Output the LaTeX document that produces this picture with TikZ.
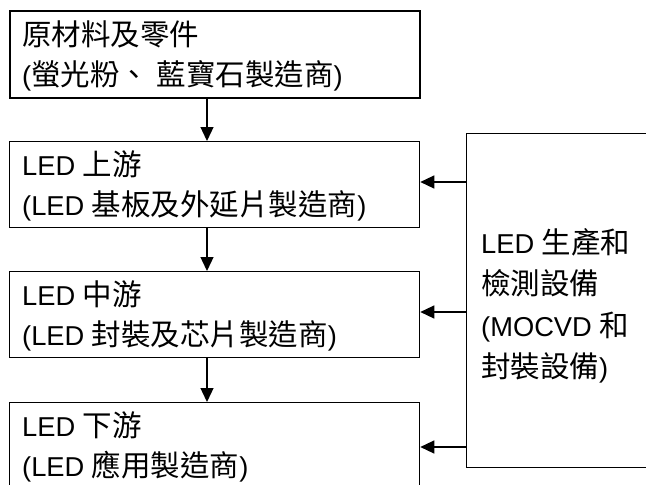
\documentclass[tikz,border=0pt]{standalone}
\usepackage{fontspec}
\setmainfont{Liberation Sans}
\newfontfamily\cjk[Scale=1.08]{Noto Sans CJK TC}
\usetikzlibrary{arrows.meta}
\tikzset{
  box/.style={draw, line width=1.3pt, rectangle, inner sep=0pt, anchor=north west, minimum width=410pt},
  eqbox/.style={draw, line width=1.3pt, rectangle, inner sep=0pt, anchor=north west},
  txt/.style={anchor=base west, inner sep=0pt, font=\fontsize{27.3}{40}\selectfont},
  arr/.style={line width=1.3pt, -{Triangle[length=14pt,width=13pt]}}
}
\begin{document}
\begin{tikzpicture}[x=1pt,y=-1pt]
\useasboundingbox (0,0) rectangle (646,485);
\clip (0,0) rectangle (646,485);
% boxes
\node[box, line width=2pt, minimum height=87pt] (b1) at (9,10) {};
\node[box, minimum height=86pt] (b2) at (9,141) {};
\node[box, minimum height=86pt] (b3) at (9,271) {};
\node[box, minimum height=110pt] (b4) at (9,402) {};
\node[eqbox, minimum width=200pt, minimum height=334pt] (eq) at (466,133) {};
% texts
\node[txt] (t1a) at (22,45) {{\cjk 原材料及零件}};
\node[txt] (t1b) at (22,85) {({\cjk 螢光粉、} {\cjk 藍寶石製造商})};
\node[txt] (t2a) at (22,175) {LED {\cjk 上游}};
\node[txt] (t2b) at (22,215) {(LED {\cjk 基板及外延片製造商})};
\node[txt] (t3a) at (22,305) {LED {\cjk 中游}};
\node[txt] (t3b) at (22,345) {(LED {\cjk 封裝及芯片製造商})};
\node[txt] (t4a) at (22,436) {LED {\cjk 下游}};
\node[txt] (t4b) at (22,476) {(LED {\cjk 應用製造商})};
\node[txt] (e1) at (481,253) {LED {\cjk 生產和}};
\node[txt] (e2) at (481,294.5) {{\cjk 檢測設備}};
\node[txt] (e3) at (481,336) {(MOCVD {\cjk 和}};
\node[txt] (e4) at (481,377.5) {{\cjk 封裝設備})};
% vertical arrows
\coordinate (vx) at (207,0);
\draw[arr] (b1.south -| vx) -- (b2.north -| vx);
\draw[arr] (b2.south -| vx) -- (b3.north -| vx);
\draw[arr] (b3.south -| vx) -- (b4.north -| vx);
% arrows from equipment box
\coordinate (h1) at (0,182);
\coordinate (h2) at (0,312);
\coordinate (h3) at (0,447);
\draw[arr] (eq.west |- h1) -- (b2.east |- h1);
\draw[arr] (eq.west |- h2) -- (b3.east |- h2);
\draw[arr] (eq.west |- h3) -- (b4.east |- h3);
\end{tikzpicture}
\end{document}
